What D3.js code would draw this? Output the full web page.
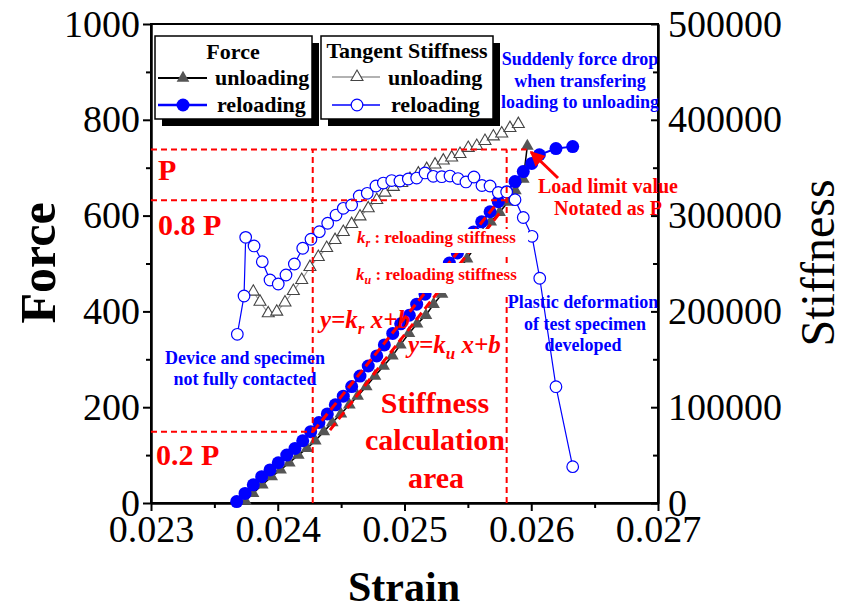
<!DOCTYPE html>
<html>
<head>
<meta charset="utf-8">
<script src="https://cdn.jsdelivr.net/npm/d3@7/dist/d3.min.js"></script>
<style>
  body { margin: 0; background: #fff; }
  svg text { font-family: "Liberation Serif", "Times New Roman", serif; }
</style>
</head>
<body>
<div id="chart"></div>
<script>
// ---- data ----
var strainTicks = [0.023, 0.024, 0.025, 0.026, 0.027];
var strainMinor = [0.0235, 0.0245, 0.0255, 0.0265];
var forceTicks = [0, 200, 400, 600, 800, 1000];
var forceMinor = [100, 300, 500, 700, 900];
var stiffTicks = [0, 100000, 200000, 300000, 400000, 500000];
var stiffMinor = [50000, 150000, 250000, 350000, 450000];

// Force - unloading (filled triangles)
var forceUnloadStrain = [0.023745, 0.023805, 0.023878, 0.023952, 0.024022, 0.024091, 0.024162, 0.024231,
  0.024296, 0.024363, 0.02443, 0.024498, 0.024565, 0.02463, 0.024698, 0.024767, 0.024835, 0.024904,
  0.024967, 0.025035, 0.025099, 0.025169, 0.025229, 0.025296, 0.02536, 0.025428, 0.025493, 0.025557,
  0.02562, 0.02568, 0.02575, 0.025815, 0.025875, 0.025937, 0.025969];
var forceUnloadValue = [4, 20, 38, 55, 69, 84, 100, 114, 130, 149, 168, 186, 205, 223, 243, 265, 286, 307,
  330, 354, 374, 392, 415, 436, 461, 486, 510, 535, 561, 587, 607, 628, 652, 676, 745];

// Force - reloading (filled circles)
var forceReloadStrain = [0.023676, 0.023742, 0.023807, 0.023873, 0.023939, 0.024004, 0.024071, 0.024136,
  0.024197, 0.02426, 0.024325, 0.024391, 0.024454, 0.024517, 0.024583, 0.024649, 0.024714, 0.024781,
  0.024841, 0.024907, 0.02497, 0.025038, 0.025096, 0.025162, 0.025226, 0.02529, 0.025354, 0.025417,
  0.025481, 0.025545, 0.025609, 0.025675, 0.02574, 0.025806, 0.025872, 0.025937, 0.026004, 0.026064,
  0.026195, 0.026327];
var forceReloadValue = [3, 20, 38, 55, 69, 84, 100, 114, 130, 149, 168, 186, 205, 223, 243, 265, 286, 307,
  330, 354, 374, 392, 415, 436, 458, 479, 501, 522, 544, 566, 587, 608, 629, 650, 671, 692, 709, 727,
  740, 744];

// Tangent stiffness - unloading (open triangles)
var stiffUnloadStrain = [0.023807, 0.02386, 0.023925, 0.023992, 0.024057, 0.024123, 0.024189, 0.024254,
  0.02432, 0.024386, 0.024452, 0.024517, 0.024583, 0.024649, 0.024714, 0.024781, 0.024846, 0.024912,
  0.024978, 0.025043, 0.025109, 0.025175, 0.025241, 0.025306, 0.025372, 0.025438, 0.025503, 0.02557,
  0.025635, 0.025701, 0.025767, 0.025832, 0.025898];
var stiffUnloadValue = [220600, 210100, 198000, 199700, 209300, 221300, 232800, 246300, 256800, 266200,
  274500, 282900, 291200, 299100, 307600, 316300, 323900, 329900, 334000, 338200, 343900, 348600,
  353300, 357500, 360600, 364300, 370600, 372700, 377900, 382600, 385700, 391400, 395600];

// Tangent stiffness - reloading (open circles)
var stiffReloadStrain = [0.023681, 0.023734, 0.023747, 0.023813, 0.023878, 0.023939, 0.024004, 0.024065,
  0.024131, 0.024197, 0.024262, 0.024328, 0.024394, 0.02446, 0.024517, 0.024583, 0.024643, 0.024706,
  0.024775, 0.024833, 0.024899, 0.024964, 0.02503, 0.025096, 0.025162, 0.025227, 0.025294, 0.025359,
  0.025422, 0.025485, 0.025548, 0.025611, 0.025675, 0.02574, 0.025806, 0.025872, 0.025937, 0.026006,
  0.026067, 0.026195, 0.026327];
var stiffReloadValue = [176100, 216100, 277300, 268300, 251900, 232800, 228600, 238000, 249500, 265900,
  275300, 283200, 292000, 300600, 307600, 311100, 320500, 323300, 330900, 334000, 336600, 336100,
  338200, 339200, 344500, 341000, 340600, 341300, 338700, 335100, 340300, 331400, 330900, 324100,
  324600, 316600, 298000, 278400, 234600, 121400, 37900];

// guide levels
var loadP = 738, load08P = 632, load02P = 149;
var peakStrain = 0.025964;
var areaStrain = [0.024276, 0.025806];
var fitReload = [[0.024278, 149], [0.025713, 620]];
var fitUnload = [[0.024412, 152], [0.02577, 612]];

// ---- layout ----
var W = 847, H = 611;
var svg = d3.select("#chart").append("svg").attr("width", W).attr("height", H)
  .style("background", "#fff");

var x = d3.scaleLinear().domain([0.023, 0.027]).range([151, 658]);
var yF = d3.scaleLinear().domain([0, 1000]).range([503, 24]);
var yS = d3.scaleLinear().domain([0, 500000]).range([503, 24]);

var RED = "#ff0000", BLUE = "#0000ff";

// frame
svg.append("rect").attr("x", 151).attr("y", 24).attr("width", 507).attr("height", 479)
  .attr("fill", "none").attr("stroke", "#000").attr("stroke-width", 2);

function styleAxis(g) {
  g.select(".domain").attr("stroke-width", 2);
  g.selectAll(".tick line").attr("stroke-width", 2);
  g.selectAll("text").attr("font-family", "Liberation Serif, serif").attr("font-size", 38).attr("fill", "#000");
}

// bottom axis
svg.append("g").attr("transform", "translate(0,503)")
  .call(d3.axisBottom(x).tickValues(strainTicks).tickSize(8).tickSizeOuter(0).tickPadding(4)
    .tickFormat(d3.format(".3f")))
  .call(styleAxis);
svg.append("g").attr("transform", "translate(0,503)")
  .call(d3.axisBottom(x).tickValues(strainMinor).tickSize(5).tickSizeOuter(0).tickFormat(""))
  .call(styleAxis);

// left axis
svg.append("g").attr("transform", "translate(151,0)")
  .call(d3.axisLeft(yF).tickValues(forceTicks).tickSize(8).tickSizeOuter(0).tickPadding(3)
    .tickFormat(d3.format("d")))
  .call(styleAxis);
svg.append("g").attr("transform", "translate(151,0)")
  .call(d3.axisLeft(yF).tickValues(forceMinor).tickSize(5).tickSizeOuter(0).tickFormat(""))
  .call(styleAxis);

// right axis (ticks point inwards)
svg.append("g").attr("transform", "translate(658,0)")
  .call(d3.axisRight(yS).tickValues(stiffTicks).tickSize(-7).tickSizeOuter(0).tickPadding(10)
    .tickFormat(d3.format("d")))
  .call(styleAxis);
svg.append("g").attr("transform", "translate(658,0)")
  .call(d3.axisRight(yS).tickValues(stiffMinor).tickSize(-5).tickSizeOuter(0).tickFormat(""))
  .call(styleAxis);

// axis titles
svg.append("text").attr("transform", "translate(55,263) rotate(-90)")
  .attr("text-anchor", "middle").attr("font-size", 50).attr("font-weight", "bold").text("Force");
svg.append("text").attr("x", 404).attr("y", 601)
  .attr("text-anchor", "middle").attr("font-size", 42).attr("font-weight", "bold").text("Strain");
svg.append("text").attr("transform", "translate(834,263) rotate(-90)")
  .attr("text-anchor", "middle").attr("font-size", 48).text("Stiffness");

// ---- series ----
function pts(sx, sv) {
  return sx.map(function (d, i) { return [d, sv[i]]; });
}
var lineF = d3.line().x(function (d) { return x(d[0]); }).y(function (d) { return yF(d[1]); });
var lineS = d3.line().x(function (d) { return x(d[0]); }).y(function (d) { return yS(d[1]); });
var tri = d3.symbol().type(d3.symbolTriangle).size(70);
var triOpen = d3.symbol().type(d3.symbolTriangle).size(62);

var fU = pts(forceUnloadStrain, forceUnloadValue);
var fR = pts(forceReloadStrain, forceReloadValue);
var sU = pts(stiffUnloadStrain, stiffUnloadValue);
var sR = pts(stiffReloadStrain, stiffReloadValue);

// force unloading
svg.append("path").datum(fU).attr("d", lineF).attr("fill", "none").attr("stroke", "#000").attr("stroke-width", 1.5);
svg.append("g").selectAll("path").data(fU).enter().append("path")
  .attr("d", tri)
  .attr("transform", function (d) { return "translate(" + x(d[0]) + "," + yF(d[1]) + ")"; })
  .attr("fill", "#555");

// force reloading
svg.append("path").datum(fR).attr("d", lineF).attr("fill", "none").attr("stroke", BLUE).attr("stroke-width", 2);
svg.append("g").selectAll("circle").data(fR).enter().append("circle")
  .attr("cx", function (d) { return x(d[0]); })
  .attr("cy", function (d) { return yF(d[1]); })
  .attr("r", 6.5).attr("fill", BLUE);

// stiffness unloading
svg.append("path").datum(sU).attr("d", lineS).attr("fill", "none").attr("stroke", "#999").attr("stroke-width", 1.2);
svg.append("g").selectAll("path").data(sU).enter().append("path")
  .attr("d", triOpen)
  .attr("transform", function (d) { return "translate(" + x(d[0]) + "," + yS(d[1]) + ")"; })
  .attr("fill", "#fff").attr("stroke", "#444").attr("stroke-width", 1.1);

// stiffness reloading
svg.append("path").datum(sR).attr("d", lineS).attr("fill", "none").attr("stroke", BLUE).attr("stroke-width", 1.2);
svg.append("g").selectAll("circle").data(sR).enter().append("circle")
  .attr("cx", function (d) { return x(d[0]); })
  .attr("cy", function (d) { return yS(d[1]); })
  .attr("r", 5.8).attr("fill", "#fff").attr("stroke", BLUE).attr("stroke-width", 1.2);

// fitted lines
[fitReload, fitUnload].forEach(function (f) {
  svg.append("path").datum(f).attr("d", lineF).attr("fill", "none")
    .attr("stroke", RED).attr("stroke-width", 3).attr("stroke-dasharray", "9,5");
});

// guide lines
var guides = [
  [[0.023, loadP], [peakStrain, loadP]],
  [[0.023, load08P], [areaStrain[1], load08P]],
  [[0.023, load02P], [areaStrain[0], load02P]],
  [[areaStrain[0], 0], [areaStrain[0], loadP]],
  [[areaStrain[1], 0], [areaStrain[1], loadP]]
];
guides.forEach(function (g) {
  svg.append("path").datum(g).attr("d", lineF).attr("fill", "none")
    .attr("stroke", RED).attr("stroke-width", 2).attr("stroke-dasharray", "6,4");
});

// white boxes behind stiffness definitions
svg.append("rect").attr("x", 354).attr("y", 229).attr("width", 174).attr("height", 24).attr("fill", "#fff");
svg.append("rect").attr("x", 354).attr("y", 263).attr("width", 174).attr("height", 30).attr("fill", "#fff");

function kLabel(xp, yp, sub) {
  var t = svg.append("text").attr("x", xp).attr("y", yp).attr("font-size", 17)
    .attr("font-weight", "bold").attr("fill", RED);
  t.append("tspan").attr("font-style", "italic").text("k");
  t.append("tspan").attr("font-style", "italic").attr("font-size", 12).attr("dy", 4).text(sub);
  t.append("tspan").attr("dy", -4).text(" : reloading stiffness");
}
kLabel(357, 243, "r");
kLabel(356, 280, "u");

function eqLabel(xp, yp, sub) {
  var t = svg.append("text").attr("x", xp).attr("y", yp).attr("font-size", 25)
    .attr("font-weight", "bold").attr("font-style", "italic").attr("fill", RED);
  t.append("tspan").text("y=k");
  t.append("tspan").attr("font-size", 17).attr("dy", 6).text(sub);
  t.append("tspan").attr("dy", -6).text(" x+b");
}
eqLabel(320, 328, "r");
eqLabel(408, 353, "u");

// red labels
function redText(xp, yp, s, size, anchor) {
  svg.append("text").attr("x", xp).attr("y", yp).attr("font-size", size)
    .attr("font-weight", "bold").attr("fill", RED).attr("text-anchor", anchor || "start").text(s);
}
redText(158, 180, "P", 30);
redText(158, 235, "0.8 P", 30);
redText(156, 465, "0.2 P", 30);
redText(435, 413, "Stiffness", 30, "middle");
redText(435, 450, "calculation", 30, "middle");
redText(436, 488, "area", 30, "middle");
redText(608, 193, "Load limit value", 20, "middle");
redText(608, 215, "Notated as P", 20, "middle");

// arrow
svg.append("defs").append("marker").attr("id", "arr").attr("viewBox", "0 0 10 10")
  .attr("refX", 9).attr("refY", 5).attr("markerWidth", 5).attr("markerHeight", 5)
  .attr("orient", "auto").append("path").attr("d", "M0,0L10,5L0,10z").attr("fill", RED);
svg.append("line").attr("x1", 558).attr("y1", 178).attr("x2", 531).attr("y2", 152)
  .attr("stroke", RED).attr("stroke-width", 3).attr("marker-end", "url(#arr)");

// blue notes
function blueText(xp, yp, s) {
  svg.append("text").attr("x", xp).attr("y", yp).attr("font-size", 18)
    .attr("font-weight", "bold").attr("fill", BLUE).attr("text-anchor", "middle").text(s);
}
blueText(580, 65, "Suddenly force drop");
blueText(580, 87, "when transfering");
blueText(580, 108, "loading to unloading");
blueText(245, 364, "Device and specimen");
blueText(245, 385, "not fully contacted");
blueText(583, 308, "Plastic deformation");
blueText(585, 330, "of test specimen");
blueText(583, 351, "developed");

// ---- legends ----
function legendBox(bx, by, bw, bh) {
  svg.append("rect").attr("x", bx + 7).attr("y", by + 7).attr("width", bw).attr("height", bh).attr("fill", "#000");
  svg.append("rect").attr("x", bx).attr("y", by).attr("width", bw).attr("height", bh)
    .attr("fill", "#fff").attr("stroke", "#000").attr("stroke-width", 1.5);
}
function legText(xp, yp, s, anchor) {
  svg.append("text").attr("x", xp).attr("y", yp).attr("font-size", 22).attr("font-weight", "bold")
    .attr("text-anchor", anchor || "start").text(s);
}
function legLine(x1, x2, yp, col, w) {
  svg.append("line").attr("x1", x1).attr("x2", x2).attr("y1", yp).attr("y2", yp)
    .attr("stroke", col).attr("stroke-width", w);
}

legendBox(155, 36, 157, 83);
legText(233, 59, "Force", "middle");
legLine(158, 207, 78, "#000", 2);
svg.append("path").attr("d", tri).attr("transform", "translate(183,78)").attr("fill", "#555");
legText(215, 85, "unloading");
legLine(158, 207, 105, BLUE, 2.5);
svg.append("circle").attr("cx", 183).attr("cy", 105).attr("r", 6.5).attr("fill", BLUE);
legText(217, 112, "reloading");

legendBox(321, 36, 172, 83);
legText(407, 58, "Tangent Stiffness", "middle");
legLine(332, 380, 77, "#999", 1.5);
svg.append("path").attr("d", triOpen).attr("transform", "translate(357,77)")
  .attr("fill", "#fff").attr("stroke", "#444").attr("stroke-width", 1.1);
legText(388, 85, "unloading");
legLine(332, 380, 105, BLUE, 1.5);
svg.append("circle").attr("cx", 357).attr("cy", 105).attr("r", 5.8)
  .attr("fill", "#fff").attr("stroke", BLUE).attr("stroke-width", 1.2);
legText(391, 112, "reloading");
</script>
</body>
</html>
